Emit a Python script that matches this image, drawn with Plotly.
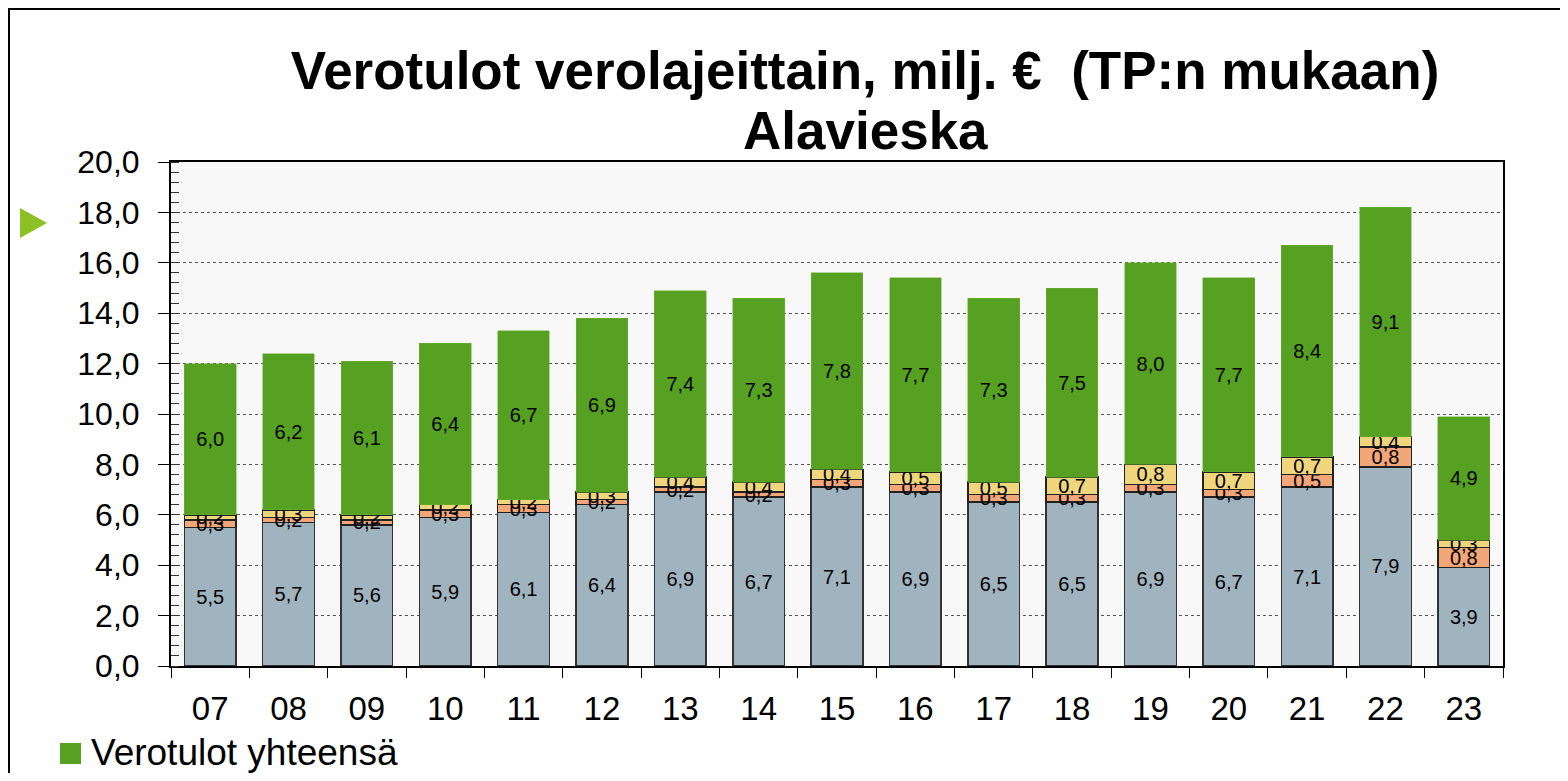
import plotly.graph_objects as go

years = ["07", "08", "09", "10", "11", "12", "13", "14", "15", "16", "17", "18", "19", "20", "21", "22", "23"]
kunnallisvero = [5.5, 5.7, 5.6, 5.9, 6.1, 6.4, 6.9, 6.7, 7.1, 6.9, 6.5, 6.5, 6.9, 6.7, 7.1, 7.9, 3.9]
yhteisovero = [0.3, 0.2, 0.2, 0.3, 0.3, 0.2, 0.2, 0.2, 0.3, 0.3, 0.3, 0.3, 0.3, 0.3, 0.5, 0.8, 0.8]
kiinteistovero = [0.2, 0.3, 0.2, 0.2, 0.2, 0.3, 0.4, 0.4, 0.4, 0.5, 0.5, 0.7, 0.8, 0.7, 0.7, 0.4, 0.3]
yhteensa = [6.0, 6.2, 6.1, 6.4, 6.7, 6.9, 7.4, 7.3, 7.8, 7.7, 7.3, 7.5, 8.0, 7.7, 8.4, 9.1, 4.9]

OFF = 8  # page body margin
W, H = 1568 - 2 * OFF, 781 - 2 * OFF
L, R, T, B = 171 - OFF, 1503 - OFF, 162 - OFF, 666 - OFF


def px(x):  # page pixel -> paper
    return (x - OFF - L) / (R - L)


def py(y):
    return (B - (y - OFF)) / (B - T)


def fmt(v):
    return f"{v:.1f}".replace(".", ",")


FONT = "Liberation Sans, Arial"

series = [
    ("Kunnallisvero", kunnallisvero, "#a0b4bf", "#333333", 1.5),
    ("Yhteisövero", yhteisovero, "#f3a678", "#222222", 1.5),
    ("Kiinteistövero", kiinteistovero, "#efd57c", "#222222", 1.5),
    ("Verotulot yhteensä", yhteensa, "#56a121", "#6bb03a", 0.5),
]

fig = go.Figure()
for name, vals, col, lcol, lw in series:
    fig.add_trace(go.Bar(
        x=years, y=vals, name=name,
        marker=dict(color=col, line=dict(color=lcol, width=lw)),
        text=[fmt(v) for v in vals],
        textposition="inside", insidetextanchor="middle",
        textangle=0, constraintext="none",
        textfont=dict(family=FONT, size=20, color="black"),
        showlegend=False,
        hoverinfo="x+y+name",
    ))

shapes = [
    # outer frame lines
    dict(type="line", xref="paper", yref="paper", x0=px(8), x1=px(1600), y0=py(9), y1=py(9),
         line=dict(color="black", width=2)),
    dict(type="line", xref="paper", yref="paper", x0=px(9), x1=px(9), y0=py(9), y1=py(800),
         line=dict(color="black", width=2)),
    # green arrow marker
    dict(type="path", xref="paper", yref="paper",
         path=f"M {px(20)},{py(208)} L {px(47)},{py(223)} L {px(20)},{py(238)} Z",
         fillcolor="#8cc024", line=dict(width=0)),
    # legend swatch
    dict(type="rect", xref="paper", yref="paper", x0=px(60), x1=px(81), y0=py(743), y1=py(764),
         fillcolor="#56a121", line=dict(width=0)),
]

annotations = [
    dict(text="<b>Alavieska</b>", xref="paper", yref="paper", x=px(865), y=py(130),
         xanchor="center", yanchor="middle", showarrow=False,
         font=dict(family=FONT, size=53, color="black")),
    dict(text="Verotulot yhteensä", xref="paper", yref="paper", x=px(89), y=py(752),
         xanchor="left", yanchor="middle", showarrow=False,
         font=dict(family=FONT, size=37, color="black")),
]

fig.update_layout(
    width=W, height=H,
    margin=dict(l=L, r=W - R, t=T, b=H - B, autoexpand=False),
    barmode="stack", bargap=0.34,
    paper_bgcolor="white", plot_bgcolor="#f8f8f8",
    separators=",.",
    font=dict(family=FONT, color="black"),
    title=dict(
        text="Verotulot verolajeittain, milj. €  (TP:n mukaan)",
        xref="container", yref="container",
        x=(865 - OFF) / W, xanchor="center", y=1 - (70 - OFF) / H, yanchor="middle",
        font=dict(family=FONT, size=53, color="black", weight="bold"),
    ),
    showlegend=False,
    shapes=shapes,
    annotations=annotations,
)

fig.update_xaxes(
    type="category", showline=True, linecolor="black", linewidth=2, mirror=True,
    ticks="outside", tickson="boundaries", ticklen=10, tickcolor="black", tickwidth=1,
    tickfont=dict(size=33), ticklabelstandoff=12, showgrid=False,
)
fig.update_yaxes(
    range=[0, 20], dtick=2, tickformat=".1f",
    showline=True, linecolor="black", linewidth=2, mirror=True,
    ticks="outside", ticklen=11, tickcolor="black", tickwidth=1,
    tickfont=dict(size=32), ticklabelstandoff=12,
    showgrid=True, gridcolor="#555555", gridwidth=1, griddash="dot",
    zeroline=False,
    minor=dict(ticks="inside", dtick=0.4, ticklen=8, tickcolor="#333333", tickwidth=1, showgrid=False),
)

fig.write_html("out.html")
